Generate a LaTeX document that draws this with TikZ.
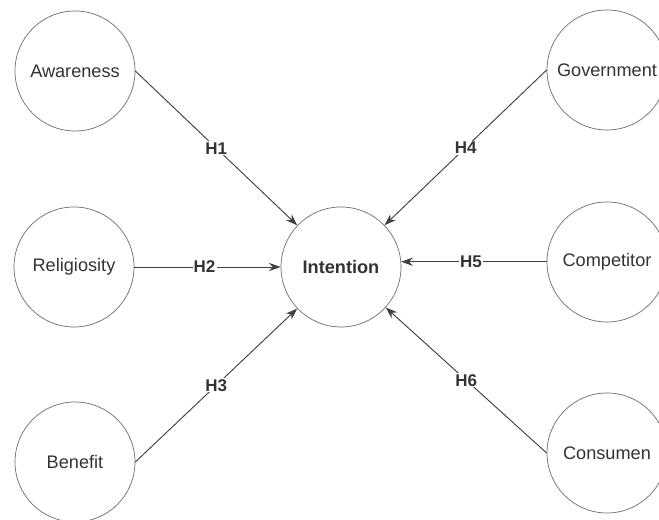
\documentclass[tikz,border=0pt]{standalone}
\usepackage{fontspec}
\setmainfont{Liberation Sans}
\usepackage{tikz}
\usepackage{xcolor}
\usetikzlibrary{arrows.meta}
\definecolor{LineGray}{HTML}{404040}
\definecolor{TextGray}{HTML}{333333}
\definecolor{RingGray}{HTML}{6E6E6E}
\tikzset{
    % Node styles
    construct/.style={
        circle,
        draw=RingGray,
        fill=white,
        line width=0.6pt,
        minimum size=3.6cm,
        inner sep=0pt,
        text=TextGray,
        font=\fontsize{15.5}{18}\selectfont
    },
    centralnode/.style={
        construct,
        font=\fontsize{15.5}{18}\selectfont\bfseries
    },
    hyplabel/.style={
        fill=white,
        inner sep=1pt,
        text=TextGray,
        font=\fontsize{14.5}{17}\selectfont\bfseries
    },
    % Arrow styles
    hyparrow/.style={
        -{Stealth[length=10pt,width=7pt]},
        line width=0.8pt,
        LineGray
    }
}
\begin{document}
\begin{tikzpicture}
            \useasboundingbox (0,0) rectangle (19.77,15.6);

            % Constructs
            \node[centralnode] (intention) at (10.23,7.59) {Intention};
            \node[construct] (awareness) at (2.25,13.47) {Awareness};
            \node[construct] (religiosity) at (2.22,7.59) {Religiosity};
            \node[construct] (benefit) at (2.25,1.74) {Benefit};
            \node[construct] (government) at (18.21,13.5) {Government};
            \node[construct] (competitor) at (18.21,7.74) {Competitor};
            \node[construct] (consumen) at (18.21,2.01) {Consumen};

            % Hypotheses
            \draw[hyparrow] (awareness.east) -- (intention) node[hyplabel, pos=0.5] {H1};
            \draw[hyparrow] (religiosity.east) -- (intention) node[hyplabel, pos=0.48] {H2};
            \draw[hyparrow] (benefit.east) -- (intention) node[hyplabel, pos=0.5] {H3};
            \draw[hyparrow] (government.west) -- (intention) node[hyplabel, pos=0.5] {H4};
            \draw[hyparrow] (competitor.west |- intention.5) -- (intention.5) node[hyplabel, pos=0.52] {H5};
            \draw[hyparrow] (consumen.west) -- (intention) node[hyplabel, pos=0.5] {H6};
        \end{tikzpicture}
\end{document}
